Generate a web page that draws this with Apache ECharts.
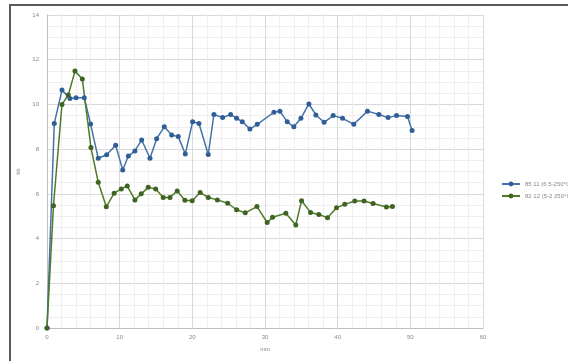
<!DOCTYPE html>
<html>
<head>
<meta charset="utf-8">
<script src="https://cdn.jsdelivr.net/npm/echarts@6/dist/echarts.min.js"></script>
<style>
  html, body { margin: 0; padding: 0; background: #fff; }
  #chart { width: 568px; height: 361px; }
</style>
</head>
<body>
<div id="chart"></div>
<script>
// Series 1: time (min) and value
const s1Name = '85 11 (6.5-250°C)';
const s1Time = [0, 1, 2.06, 3.16, 4, 5.13, 6, 7.05, 8.21, 9.45, 10.42, 11.2, 12.1, 13.03, 14.17, 15.09,
  16.14, 17.16, 18.06, 19.03, 20.04, 20.91, 22.19, 22.97, 24.17, 25.27, 26.09, 26.87, 27.92, 28.93,
  31.23, 32.05, 33.06, 33.97, 34.94, 36.04, 37.0, 38.14, 39.38, 40.67, 42.22, 44.1, 45.67, 46.94,
  48.1, 49.61, 50.24];
const s1Value = [0, 9.15, 10.64, 10.27, 10.3, 10.3, 9.12, 7.59, 7.75, 8.17, 7.07, 7.69, 7.92, 8.41, 7.59, 8.47,
  9.0, 8.63, 8.56, 7.78, 9.23, 9.15, 7.76, 9.55, 9.41, 9.55, 9.38, 9.23, 8.9, 9.11,
  9.65, 9.7, 9.22, 9.0, 9.38, 10.02, 9.53, 9.2, 9.5, 9.38, 9.11, 9.7, 9.55, 9.41,
  9.5, 9.46, 8.83];

// Series 2: time (min) and value
const s2Name = '82 12 (5-2 250°C-5)';
const s2Time = [0, 0.89, 2.06, 2.93, 3.85, 4.86, 6.05, 7.05, 8.16, 9.24, 10.22, 11.05, 12.1, 12.97, 13.93,
  14.96, 15.99, 16.92, 17.92, 18.98, 19.98, 21.08, 22.19, 23.45, 24.87, 26.09, 27.28, 28.89, 30.3,
  31.04, 32.87, 34.24, 35.03, 36.27, 37.41, 38.6, 39.84, 40.98, 42.35, 43.63, 44.87, 46.71, 47.53];
const s2Value = [0, 5.47, 10.0, 10.42, 11.49, 11.14, 8.07, 6.52, 5.42, 6.03, 6.22, 6.35, 5.73, 6.0, 6.29,
  6.22, 5.84, 5.84, 6.13, 5.71, 5.69, 6.06, 5.84, 5.73, 5.58, 5.29, 5.15, 5.43, 4.72,
  4.95, 5.13, 4.61, 5.69, 5.17, 5.08, 4.93, 5.38, 5.53, 5.68, 5.68, 5.57, 5.41, 5.43];

// Axis settings
const xMin = 0, xMax = 60, xStep = 10;
const yMin = 0, yMax = 14, yStep = 2;
const xName = 'min';
const yName = 'kb';

const pairs = (t, v) => t.map((x, i) => [x, v[i]]);

const blue = '#4472a8';
const green = '#4f7a2a';
const labelStyle = { color: '#888', fontSize: 6, fontFamily: 'Liberation Sans' };

const chart = echarts.init(document.getElementById('chart'), null, { renderer: 'canvas' });
chart.setOption({
  animation: false,
  backgroundColor: '#fff',
  graphic: [{
    type: 'rect',
    shape: { x: 10, y: 5, width: 620, height: 420 },
    style: { fill: 'none', stroke: '#5a5a5a', lineWidth: 2 },
    silent: true,
    z: 100
  }],
  grid: { left: 47, top: 15, width: 436, height: 313, containLabel: false },
  legend: {
    left: 496, top: 176,
    orient: 'vertical',
    itemGap: 6,
    itemWidth: 18, itemHeight: 6,
    textStyle: labelStyle,
    data: [s1Name, s2Name]
  },
  xAxis: {
    type: 'value', min: xMin, max: xMax, interval: xStep,
    name: xName, nameLocation: 'middle', nameGap: 18,
    nameTextStyle: labelStyle,
    axisLine: { show: true, lineStyle: { color: '#bfbfbf' } },
    axisTick: { show: false },
    axisLabel: Object.assign({ margin: 6 }, labelStyle),
    splitLine: { show: true, lineStyle: { color: '#d9d9d9', width: 1 } },
    minorTick: { show: false, splitNumber: 5 },
    minorSplitLine: { show: true, lineStyle: { color: '#efefef', width: 1 } }
  },
  yAxis: {
    type: 'value', min: yMin, max: yMax, interval: yStep,
    name: yName, nameLocation: 'middle', nameGap: 18, nameRotate: 90,
    nameTextStyle: labelStyle,
    axisLine: { show: true, lineStyle: { color: '#bfbfbf' } },
    axisTick: { show: false },
    axisLabel: Object.assign({ margin: 8, formatter: v => String(v) }, labelStyle),
    splitLine: { show: true, lineStyle: { color: '#d9d9d9', width: 1 } },
    minorTick: { show: false, splitNumber: 4 },
    minorSplitLine: { show: true, lineStyle: { color: '#efefef', width: 1 } }
  },
  series: [
    {
      name: s1Name, type: 'line', data: pairs(s1Time, s1Value),
      symbol: 'circle', symbolSize: 5,
      itemStyle: { color: '#2f5f96' },
      lineStyle: { color: blue, width: 1.5 }
    },
    {
      name: s2Name, type: 'line', data: pairs(s2Time, s2Value),
      symbol: 'circle', symbolSize: 5,
      itemStyle: { color: '#3f6321' },
      lineStyle: { color: green, width: 1.5 }
    }
  ]
});
</script>
</body>
</html>
